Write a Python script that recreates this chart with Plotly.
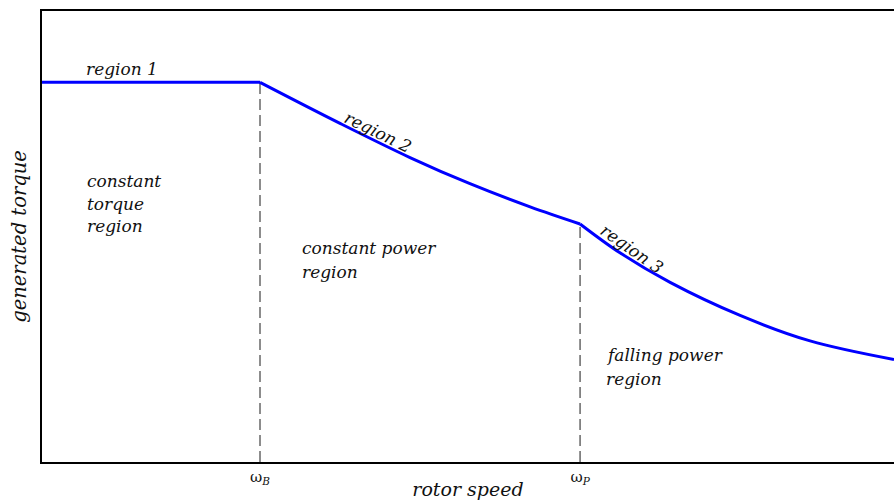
import plotly.graph_objects as go

# Rotor speed (normalised so that the base speed is 1) and generated torque
omega_B = 1.0
omega_P = 2.468
speed_r1 = [0.0, 1.0]
torque_r1 = [1.0, 1.0]
speed_r2 = [1.0, 1.367, 1.688, 1.963, 2.239, 2.468]
torque_r2 = [1.0, 0.892, 0.802, 0.733, 0.672, 0.627]
speed_r3 = [2.468, 2.651, 2.881, 3.202, 3.523, 3.908]
torque_r3 = [0.627, 0.551, 0.473, 0.386, 0.319, 0.270]
tick_vals = [omega_B, omega_P]
tick_text = ["ω<sub><i>B</i></sub>", "ω<sub><i>P</i></sub>"]

SERIF = "DejaVu Serif"
BLUE = "#0000ff"
INK = "#111111"

fig = go.Figure()

# dashed guides from the curve down to the speed axis
for w, t in [(omega_B, torque_r1[-1]), (omega_P, torque_r2[-1])]:
    fig.add_trace(go.Scatter(x=[w, w], y=[0, t], mode="lines",
                             line=dict(color="#1a1a1a", width=1, dash="11px,5px"),
                             hoverinfo="skip", showlegend=False))

for xs, ys in [(speed_r1, torque_r1), (speed_r2, torque_r2), (speed_r3, torque_r3)]:
    fig.add_trace(go.Scatter(x=xs, y=ys, mode="lines",
                             line=dict(color=BLUE, width=3, shape="spline", smoothing=1.0),
                             showlegend=False))

def label(text, x, y, angle=0, anchor="left", size=17):
    fig.add_annotation(x=x, y=y, text=f"<i>{text}</i>", showarrow=False,
                       xanchor=anchor, yanchor="middle", textangle=angle,
                       font=dict(family=SERIF, size=size, color=INK))

label("region 1", 0.367, 1.034, anchor="center")
label("region 2", 1.541, 0.869, angle=26, anchor="center")
label("region 3", 2.706, 0.561, angle=35, anchor="center")
label("constant", 0.197, 0.739)
label("torque", 0.197, 0.679)
label("region", 0.197, 0.621)
label("constant power", 1.183, 0.564)
label("region", 1.183, 0.501)
label("falling power", 2.578, 0.282)
label("region", 2.578, 0.219)

fig.update_layout(
    width=894, height=500,
    margin=dict(l=42, r=0, t=11, b=34),
    paper_bgcolor="white", plot_bgcolor="white",
    xaxis=dict(range=[0, 3.908], showgrid=False, zeroline=False,
               showline=True, linecolor="black", linewidth=1.5, mirror=True,
               tickmode="array", tickvals=tick_vals, ticktext=tick_text,
               ticks="", tickfont=dict(family=SERIF, size=15, color=INK),
               title=dict(text="<i>rotor speed</i>", standoff=0,
                          font=dict(family=SERIF, size=19, color=INK))),
    yaxis=dict(range=[0, 1.188], showgrid=False, zeroline=False,
               showline=True, linecolor="black", linewidth=1.5,
               showticklabels=False, ticks="",
               title=dict(text="<i>generated torque</i>", standoff=8,
                          font=dict(family=SERIF, size=19.5, color=INK))),
)

fig.write_html("out.html")
